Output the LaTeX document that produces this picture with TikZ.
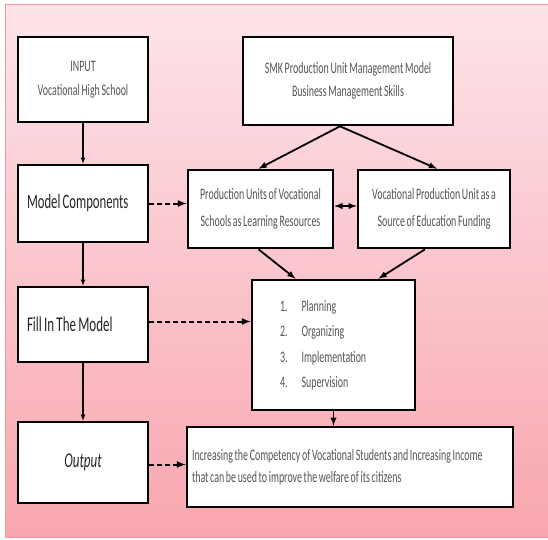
\documentclass[tikz,border=0pt]{standalone}
\usepackage{fontspec}
\setmainfont{Carlito}[FakeStretch=0.62, WordSpace=0.75]
\usepackage{xcolor}
\definecolor{pinktop}{RGB}{252,228,233}
\definecolor{pinkbot}{RGB}{249,166,175}
\definecolor{pinkline}{RGB}{236,150,160}
\definecolor{boxtext}{RGB}{85,85,85}
\tikzset{
  box/.style={draw, line width=2.6pt, fill=white, inner sep=2pt, align=center,
    execute at begin node={\spaceskip=0pt\xspaceskip=0pt\relax}},
  smalltxt/.style={font=\fontsize{16}{24}\selectfont, text=boxtext},
  bigtxt/.style={font=\fontsize{20.5}{24}\selectfont, text=black!85},
}
\begin{document}
\begin{tikzpicture}[x=1pt, y=-1pt]
\useasboundingbox (0,0) rectangle (548,539);
\shade[top color=pinktop, bottom color=pinkbot] (5,4) rectangle (548,537);
\draw[pinkline, line width=1pt] (5,537) -- (5,4) -- (548,4);
\draw[pinkline, line width=1pt] (5,537) -- (548,537);
% left column
\node[box, smalltxt, minimum width=130pt, minimum height=85pt] (input) at (83,79.5) {INPUT\\Vocational High School};
\node[box, bigtxt, minimum width=130pt, minimum height=77pt, text width=112pt, align=left] (comp) at (83,203.5) {Model Components};
\node[box, bigtxt, font=\fontsize{21}{24}\selectfont, minimum width=130pt, minimum height=75pt, text width=112pt, align=left] (fill) at (83,324.5) {Fill In The Model};
\node[box, bigtxt, font=\fontsize{21}{24}\selectfont\itshape, minimum width=130pt, minimum height=81pt] (output) at (83,462.5) {Output};
% right part
\node[box, smalltxt, font=\fontsize{16}{23}\selectfont, minimum width=210pt, minimum height=88pt] (smk) at (348,81) {SMK Production Unit Management Model\\Business Management Skills};
\node[box, smalltxt, font=\fontsize{16}{27}\selectfont, minimum width=145pt, minimum height=78pt] (prodL) at (260.5,209) {Production Units of Vocational\\Schools as Learning Resources};
\node[box, smalltxt, font=\fontsize{16}{27}\selectfont, minimum width=152pt, minimum height=78pt] (prodR) at (434,209) {Vocational Production Unit as a\\Source of Education Funding};
\node[box, smalltxt, font=\fontsize{16}{25.5}\selectfont, minimum width=163pt, minimum height=130pt, inner xsep=28pt, text width=107pt, align=left] (plan) at (333.5,345) {1.\hspace{14pt}Planning\\2.\hspace{14pt}Organizing\\3.\hspace{14pt}Implementation\\4.\hspace{14pt}Supervision};
\node[box, smalltxt, font=\fontsize{16}{22}\selectfont, minimum width=326pt, minimum height=80pt, inner xsep=5pt, text width=316pt, align=left] (result) at (350,467) {Increasing the Competency of Vocational Students and Increasing Income\\that can be used to improve the welfare of its citizens};
% arrows
\draw [>=latex,->, line width=1.1pt] (input) -- (comp);
\draw [>=latex,->, line width=1.1pt] (comp) -- (fill);
\draw [>=latex,->, line width=1.1pt] (fill) -- (output);
\draw [>=latex,->, line width=1.8pt] ([xshift=-8pt]smk.south) -- ([xshift=-2pt]prodL.north);
\draw [>=latex,->, line width=1.8pt] ([xshift=-8pt]smk.south) -- ([xshift=3pt]prodR.north);
\draw [>=latex,<->, line width=1.8pt] ([yshift=3pt]prodL.east) -- ([yshift=3pt]prodR.west);
\draw [>=latex,->, line width=1.8pt] ([xshift=-2pt]prodL.south) -- ([xshift=-38pt]plan.north);
\draw [>=latex,->, line width=1.8pt] ([xshift=-9pt]prodR.south) -- ([xshift=45pt]plan.north);
\draw [>=latex,->, line width=1.8pt] (plan.south) -- (plan.south |- result.north);
\draw [>=latex,->, line width=2pt, dash pattern=on 5pt off 3pt] (comp.east) -- (comp.east -| prodL.west);
\draw [>=latex,->, line width=2pt, dash pattern=on 5pt off 3pt] ([yshift=3pt]fill.east) -- ([yshift=3pt]fill.east -| plan.west);
\draw [>=latex,->, line width=2pt, dash pattern=on 5pt off 3pt] ([yshift=-2pt]output.east) -- ([yshift=-2pt]output.east -| result.west);
\end{tikzpicture}
\end{document}
